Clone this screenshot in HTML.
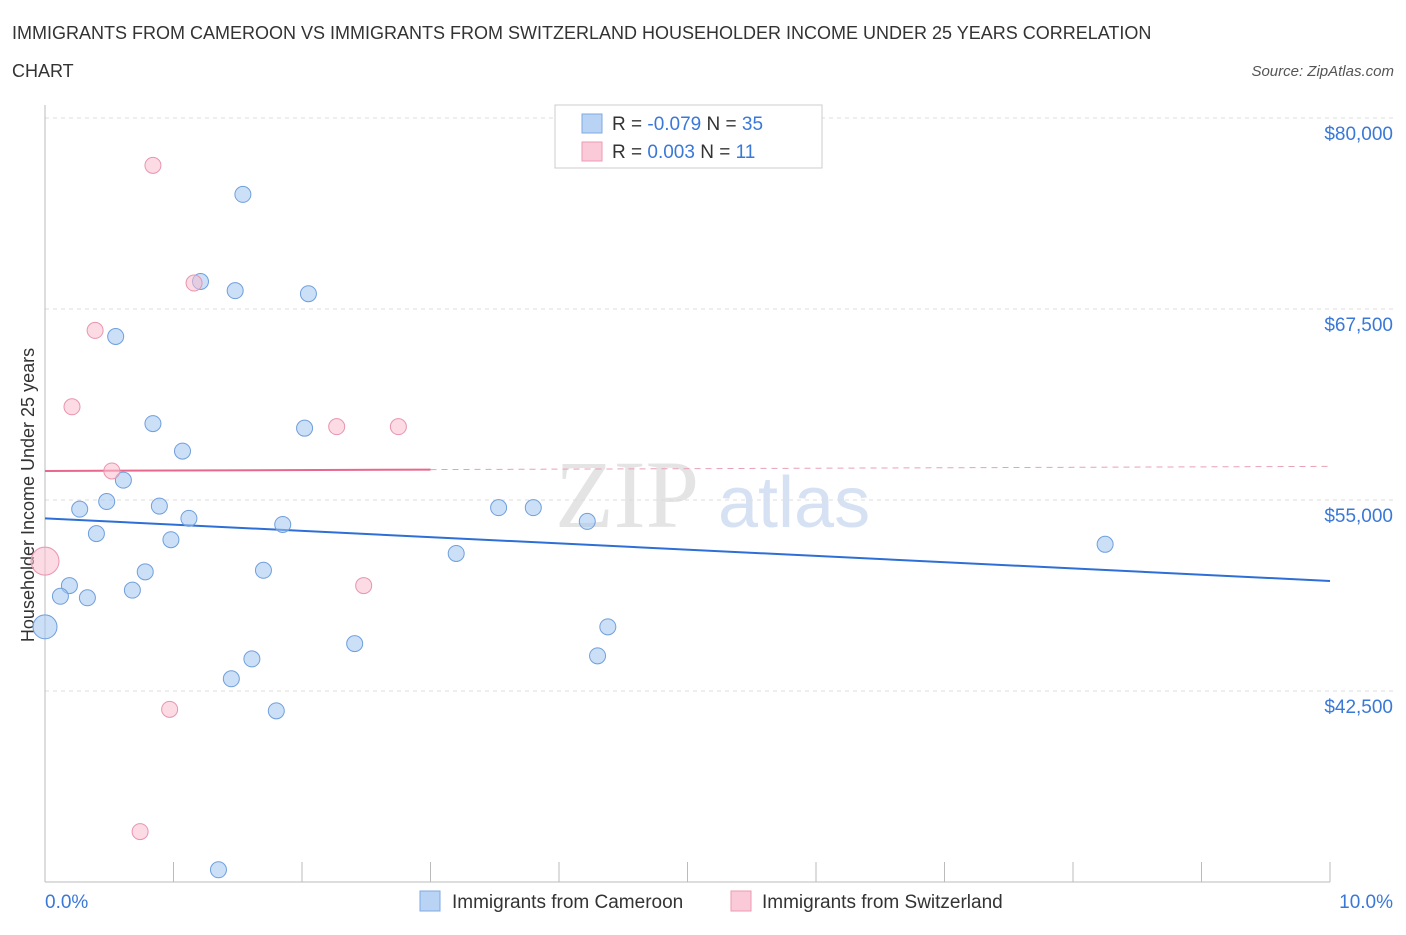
<!DOCTYPE html>
<html><head><meta charset="utf-8"><style>
body{margin:0;background:#fff;font-family:"Liberation Sans",sans-serif}
</style></head><body>
<svg width="1406" height="930" xmlns="http://www.w3.org/2000/svg" id="svg" font-family="Liberation Sans, sans-serif">
<text x="12" y="39" font-size="18" fill="#333">IMMIGRANTS FROM CAMEROON VS IMMIGRANTS FROM SWITZERLAND HOUSEHOLDER INCOME UNDER 25 YEARS CORRELATION</text>
<text x="12" y="77" font-size="18" fill="#333">CHART</text>
<text x="1394" y="76" font-size="15" fill="#555" font-style="italic" text-anchor="end">Source: ZipAtlas.com</text>
<text x="34" y="495" font-size="18" fill="#333" text-anchor="middle" transform="rotate(-90 34 495)">Householder Income Under 25 years</text>
<text x="555" y="527" font-size="96" fill="#e4e4e4" font-family="Liberation Serif, serif">ZIP</text>
<text x="718" y="527" font-size="72" fill="#d6e2f3">atlas</text>
<g id="grid"></g><g id="axes"></g><g id="trend"></g><g id="pts"></g>
<g>
<rect x="555" y="105" width="267" height="63" fill="#fff" stroke="#ccc"/>
<rect x="582" y="114" width="20" height="19" fill="#b9d3f5" stroke="#7fa8e0"/>
<rect x="582" y="142" width="20" height="19" fill="#fbcad8" stroke="#ee9ab3"/>
<text x="612" y="130" font-size="19" fill="#333">R = <tspan fill="#3a78d8">-0.079</tspan>   N = <tspan fill="#3a78d8">35</tspan></text>
<text x="612" y="158" font-size="19" fill="#333">R =  <tspan fill="#3a78d8">0.003</tspan>   N =  <tspan fill="#3a78d8">11</tspan></text>
</g>
<g>
<rect x="420" y="891" width="20" height="20" fill="#b9d3f5" stroke="#7fa8e0"/>
<text x="452" y="908" font-size="19" fill="#333">Immigrants from Cameroon</text>
<rect x="731" y="891" width="20" height="20" fill="#fbcad8" stroke="#ee9ab3"/>
<text x="762" y="908" font-size="19" fill="#333">Immigrants from Switzerland</text>
</g>
</svg>
<script>
const blueX=[1.54,1.21,1.48,2.05,0.55,0.84,2.02,1.07,0.61,0.48,0.27,0.89,1.12,1.85,0.40,0.98,0.78,1.70,0.19,0.12,0.33,0.68,0.0,2.41,1.61,1.45,1.80,1.35,3.20,3.53,3.80,4.22,4.38,4.30,8.25];
const blueY=[75000,69300,68700,68500,65700,60000,59700,58200,56300,54900,54400,54600,53800,53400,52800,52400,50300,50400,49400,48700,48600,49100,46700,45600,44600,43300,41200,30800,51500,54500,54500,53600,46700,44800,52100];
const blueR=[8,8,8,8,8,8,8,8,8,8,8,8,8,8,8,8,8,8,8,8,8,8,12,8,8,8,8,8,8,8,8,8,8,8,8];
const pinkX=[0.84,1.16,0.39,0.21,2.27,2.75,0.52,0.0,2.48,0.97,0.74];
const pinkY=[76900,69200,66100,61100,59800,59800,56900,51000,49400,41300,33300];
const pinkR=[8,8,8,8,8,8,8,14,8,8,8];
const yTicks=[80000,67500,55000,42500];
const yLabels=["$80,000","$67,500","$55,000","$42,500"];
const blueTrend=[53800,49700];
const pinkTrend=[56900,57200];
const NS="http://www.w3.org/2000/svg";
const X=v=>45+v*128.5, Y=v=>118+(80000-v)*191/12500;
function mk(t,a,p){const e=document.createElementNS(NS,t);for(const k in a)e.setAttribute(k,a[k]);document.getElementById(p).appendChild(e);return e;}
yTicks.forEach((v,i)=>{
 const l=mk('line',{x1:45,x2:1395,y1:Y(v),y2:Y(v),stroke:'#ddd','stroke-dasharray':'4,4'},'grid');
 
 
 const t=mk('text',{x:1393,y:Y(v)+22,'font-size':19,fill:'#3a78d8','text-anchor':'end'},'axes');t.textContent=yLabels[i];
 
 
});
mk('line',{x1:45,x2:45,y1:105,y2:882,stroke:'#bbb'},'axes');
mk('line',{x1:45,x2:1330,y1:882,y2:882,stroke:'#bbb'},'axes');
for(let i=0;i<=10;i++){const l=mk('line',{x1:X(i),x2:X(i),y1:862,y2:882,stroke:'#bbb'},'axes');
 
 }
let t=mk('text',{x:45,y:908,'font-size':19,fill:'#3a78d8'},'axes');t.textContent='0.0%';


t=mk('text',{x:1393,y:908,'font-size':19,fill:'#3a78d8','text-anchor':'end'},'axes');t.textContent='10.0%';


let tl=mk('line',{x1:X(0),x2:X(10),y1:Y(blueTrend[0]),y2:Y(blueTrend[1]),stroke:'#2d6fd6','stroke-width':2},'trend');


const pm=v=>pinkTrend[0]+(pinkTrend[1]-pinkTrend[0])*v/10;
tl=mk('line',{x1:X(0),x2:X(3),y1:Y(pm(0)),y2:Y(pm(3)),stroke:'#e8678d','stroke-width':2},'trend');


tl=mk('line',{x1:X(3),x2:X(10),y1:Y(pm(3)),y2:Y(pm(10)),stroke:'#e8a0b5','stroke-width':1,'stroke-dasharray':'6,5'},'trend');


blueX.forEach((v,i)=>{const c=mk('circle',{cx:X(v),cy:Y(blueY[i]),r:blueR[i],fill:'rgba(160,196,240,0.55)',stroke:'#6f9fdc'},'pts');
 
 });
pinkX.forEach((v,i)=>{const c=mk('circle',{cx:X(v),cy:Y(pinkY[i]),r:pinkR[i],fill:'rgba(249,190,208,0.55)',stroke:'#e994ae'},'pts');
 
 });
</script>
</body></html>
